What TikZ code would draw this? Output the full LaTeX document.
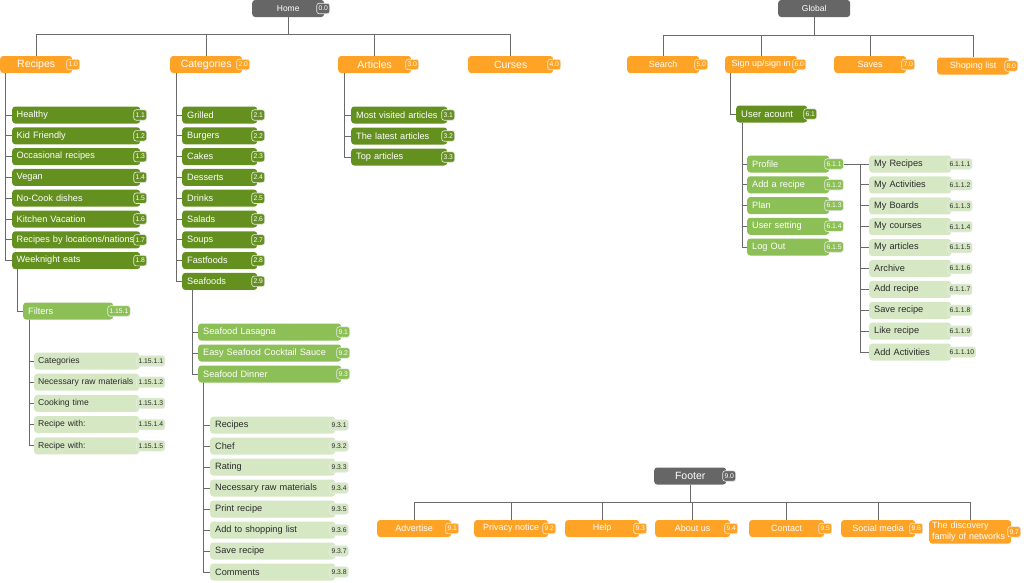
\documentclass[tikz,border=0pt]{standalone}
\usepackage{fontspec}
\setmainfont{Liberation Sans}
\definecolor{headgray}{HTML}{666666}
\definecolor{sectorange}{HTML}{FFA326}
\definecolor{deepgreen}{HTML}{64901F}
\definecolor{midgreen}{HTML}{8CBF55}
\definecolor{palegreen}{HTML}{D5E8C3}
\definecolor{linkgray}{HTML}{6A6A6A}
\definecolor{darktext}{HTML}{2B2B2B}
\begin{document}
\begin{tikzpicture}[x=1pt, y=-1pt, text=white, font=\fontsize{9.2}{10.5}\selectfont,
    box/.style={rounded corners=3pt, minimum height=17pt, inner xsep=5pt, inner ysep=0pt, anchor=west},
    head/.style={box, fill=headgray, minimum width=72pt, align=center, font=\fontsize{8.5}{10}\selectfont},
    sect/.style={box, fill=sectorange, inner xsep=2pt, align=center},
    deep/.style={box, fill=deepgreen, align=left},
    mid/.style={box, fill=midgreen, align=left},
    pale/.style={box, fill=palegreen, text=darktext, align=left},
    tag/.style={draw=white!92!black, line width=0.6pt, rounded corners=2.5pt, inner xsep=1.8pt, inner ysep=0pt, minimum height=10.5pt, anchor=west, font=\fontsize{6.8}{7}\selectfont},
    link/.style={draw=linkgray, line width=0.9pt}]
\useasboundingbox (0,0) rectangle (1024,582);
% home
\node[head] (home) at (252,8.5) {Home};
\node[tag, fill=headgray] (t-home) at ([xshift=-8pt]home.east) {0.0};
\foreach \name/\txt/\num/\x/\w in {recipes/Recipes/1.0/0/72, categories/Categories/2.0/170/72, articles/Articles/3.0/338/73, curses/Curses/4.0/468/85}{
    \node[sect, minimum width=\w pt, font=\fontsize{10.5}{12}\selectfont] (\name) at (\x,64.5) {\txt};
    \node[tag, fill=sectorange] (t-\name) at ([xshift=-6pt]\name.east) {\num};
}
\coordinate (homebus) at ([yshift=-17pt]home.south);
\draw[link] (home.south) -- (homebus);
\foreach \name in {recipes, categories, articles, curses}
    \draw[link] (homebus) -| (\name.north);
\foreach \txt/\num [count=\i] in {Healthy/1.1, Kid Friendly/1.2, Occasional recipes/1.3, Vegan/1.4, No-Cook dishes/1.5, Kitchen Vacation/1.6, {Recipes by locations/nations}/1.7, Weeknight eats/1.8}{
    \node[deep, text width=119pt, inner xsep=4.5pt] (rec\i) at (12,94.2+20.8*\i) {\txt};
    \node[tag, fill=deepgreen] (t-rec\i) at ([xshift=-7pt]rec\i.east) {\num};
    \draw[link] ([xshift=5pt]recipes.south west) |- (rec\i.west);
}
\node[mid, text width=80pt] (filters) at (23,311) {Filters};
\node[tag, fill=midgreen] (t-filters) at ([xshift=-6pt]filters.east) {1.15.1};
\draw[link] ([xshift=5pt]rec8.south west) |- (filters.west);
\foreach \txt/\num [count=\i] in {Categories/1.15.1.1, Necessary raw materials/1.15.1.2, Cooking time/1.15.1.3, Recipe with:/1.15.1.4, Recipe with:/1.15.1.5}{
    \node[pale, text width=97pt, inner xsep=4pt, font=\fontsize{8.6}{10}\selectfont] (flt\i) at (34,339.8+21.2*\i) {\txt};
    \node[tag, fill=palegreen, text=darktext] (t-flt\i) at ([xshift=-3pt]flt\i.east) {\num};
    \draw[link] ([xshift=6pt]filters.south west) |- (flt\i.west);
}
\foreach \txt/\num [count=\i] in {Grilled/2.1, Burgers/2.2, Cakes/2.3, Desserts/2.4, Drinks/2.5, Salads/2.6, Soups/2.7, Fastfoods/2.8, Seafoods/2.9}{
    \node[deep, text width=65pt] (cat\i) at (182,94.2+20.8*\i) {\txt};
    \node[tag, fill=deepgreen] (t-cat\i) at ([xshift=-6pt]cat\i.east) {\num};
    \draw[link] ([xshift=6pt]categories.south west) |- (cat\i.west);
}
\foreach \txt/\num [count=\i] in {Seafood Lasagna/9.1, Easy Seafood Cocktail Sauce/9.2, Seafood Dinner/9.3}{
    \node[mid, text width=133pt] (sea\i) at (198,311+21*\i) {\txt};
    \node[tag, fill=midgreen] (t-sea\i) at ([xshift=-5pt]sea\i.east) {\num};
    \draw[link] ([xshift=10pt]cat9.south west) |- (sea\i.west);
}
\foreach \txt/\num [count=\i] in {Recipes/9.3.1, Chef/9.3.2, Rating/9.3.3, Necessary raw materials/9.3.4, Print recipe/9.3.5, Add to shopping list/9.3.6, Save recipe/9.3.7, Comments/9.3.8}{
    \node[pale, text width=115pt] (din\i) at (210,404+21*\i) {\txt};
    \node[tag, fill=palegreen, text=darktext] (t-din\i) at ([xshift=-6pt]din\i.east) {\num};
    \draw[link] ([xshift=5pt]sea3.south west) |- (din\i.west);
}
\foreach \txt/\num [count=\i] in {Most visited articles/3.1, The latest articles/3.2, Top articles/3.3}{
    \node[deep, text width=86pt] (art\i) at (351,94+21*\i) {\txt};
    \node[tag, fill=deepgreen] (t-art\i) at ([xshift=-6pt]art\i.east) {\num};
    \draw[link] ([xshift=6pt]articles.south west) |- (art\i.west);
}
% global
\node[head] (global) at (778,8.5) {Global};
\foreach \name/\txt/\num/\x/\y in {search/Search/5.0/627/64.5, signup/{Sign up/sign in}/6.0/725/64.5, saves/Saves/7.0/834/64.5, shoplist/Shoping list/8.0/937/66}{
    \node[sect, minimum width=72pt, font=\fontsize{9}{11}\selectfont] (\name) at (\x,\y) {\txt};
    \node[tag, fill=sectorange] (t-\name) at ([xshift=-5pt]\name.east) {\num};
}
\coordinate (globalbus) at ([yshift=-18pt]global.south);
\draw[link] (global.south) -- (globalbus);
\foreach \name in {search, signup, saves, shoplist}
    \draw[link] (globalbus) -| (\name.north);
\node[deep, text width=61pt, font=\fontsize{9.5}{11}\selectfont] (user) at (736,114) {User acount};
\node[tag, fill=deepgreen] (t-user) at ([xshift=-4pt]user.east) {6.1};
\draw[link] ([xshift=5pt]signup.south west) |- (user.west);
\foreach \txt/\num [count=\i] in {Profile/6.1.1, Add a recipe/6.1.2, Plan/6.1.3, User setting/6.1.4, Log Out/6.1.5}{
    \node[mid, text width=72pt] (acc\i) at (747,143.25+20.75*\i) {\txt};
    \node[tag, fill=midgreen] (t-acc\i) at ([xshift=-5pt]acc\i.east) {\num};
    \draw[link] ([xshift=6pt]user.south west) |- (acc\i.west);
}
\coordinate (profbus) at ([xshift=17pt]t-acc1.east);
\draw[link] (t-acc1.east) -- (profbus);
\foreach \txt/\num [count=\i] in {My Recipes/6.1.1.1, My Activities/6.1.1.2, My Boards/6.1.1.3, My courses/6.1.1.4, My articles/6.1.1.5, Archive/6.1.1.6, Add recipe/6.1.1.7, Save recipe/6.1.1.8, Like recipe/6.1.1.9, Add Activities/6.1.1.10}{
    \node[pale, text width=72pt] (prof\i) at (869,143.1+20.9*\i) {\txt};
    \node[tag, fill=palegreen, text=darktext] (t-prof\i) at ([xshift=-4pt]prof\i.east) {\num};
    \draw[link] (profbus) |- (prof\i.west);
}
% footer
\node[head, font=\fontsize{10.5}{12}\selectfont] (footer) at (654,476) {Footer};
\node[tag, fill=headgray] (t-footer) at ([xshift=-4pt]footer.east) {9.0};
\coordinate (footbus) at ([yshift=-18pt]footer.south);
\draw[link] (footer.south) -- (footbus);
\foreach \name/\txt/\num/\x/\w in {advertise/Advertise/9.1/377/74, privacy/Privacy notice/9.2/474/74, help/Help/9.3/565/74, about/About us/9.4/655/75, contact/Contact/9.5/749/75, social/Social media/9.6/841/74}{
    \node[sect, minimum width=\w pt, font=\fontsize{9}{10}\selectfont] (\name) at (\x,528.5) {\txt};
    \node[tag, fill=sectorange] (t-\name) at ([xshift=-6pt]\name.east) {\num};
    \draw[link] (footbus) -| (\name.north);
}
\node[sect, text width=76pt, align=left, anchor=north west, inner xsep=3pt, inner ysep=2pt, font=\fontsize{9}{11}\selectfont] (discovery) at (929,520) {The discovery\\family of networks};
\node[tag, fill=sectorange] (t-discovery) at ([xshift=-4pt]discovery.east) {9.7};
\draw[link] (footbus) -| (discovery.north);
\end{tikzpicture}
\end{document}
